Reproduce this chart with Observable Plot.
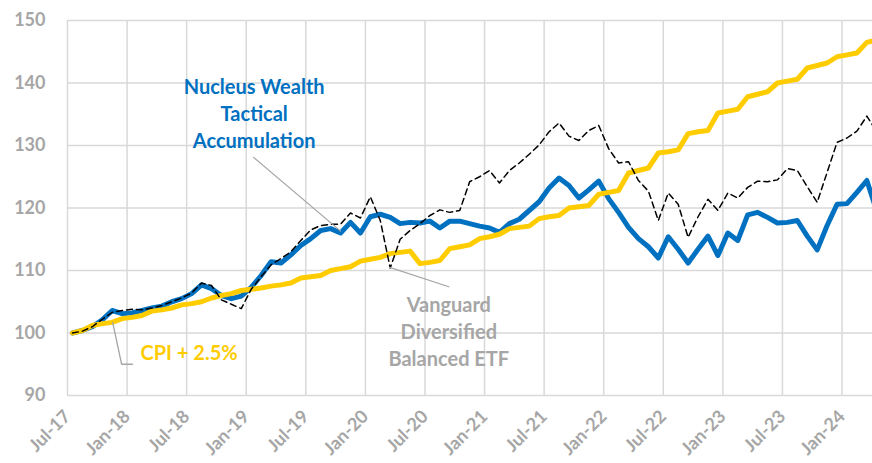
<!DOCTYPE html>
<html>
<head>
<meta charset="utf-8">
<script src="https://cdn.jsdelivr.net/npm/d3@7"></script>
<script src="https://cdn.jsdelivr.net/npm/@observablehq/plot@0.6"></script>
<style>
  html, body { margin: 0; padding: 0; background: #fff; }
  #chart { width: 872px; height: 463px; overflow: hidden; }
</style>
</head>
<body>
<div id="chart"></div>
<script>
// Month index 0 = Jul-17 ... 81 = Apr-24 (monthly observations)
const tickLabels = ["Jul-17","Jan-18","Jul-18","Jan-19","Jul-19","Jan-20","Jul-20","Jan-21","Jul-21","Jan-22","Jul-22","Jan-23","Jul-23","Jan-24"];
const yTicks = [90, 100, 110, 120, 130, 140, 150];

const nucleus = [
  100.0, 100.4, 101.0, 102.1, 103.6, 103.1, 103.2, 103.6, 104.0, 104.3,
  105.0, 105.5, 106.3, 107.7, 107.1, 106.0, 105.5, 105.9, 107.3, 109.2,
  111.4, 111.2, 112.5, 114.0, 115.1, 116.4, 116.7, 116.0, 117.7, 116.0,
  118.6, 119.0, 118.5, 117.5, 117.7, 117.6, 117.9, 116.8, 117.9, 117.9,
  117.5, 117.1, 116.8, 116.1, 117.5, 118.2, 119.6, 121.0, 123.2, 124.8,
  123.6, 121.6, 122.9, 124.3, 121.5, 119.3, 116.9, 115.1, 113.8, 112.0,
  115.4, 113.4, 111.2, 113.4, 115.5, 112.4, 116.0, 114.8, 118.9, 119.3,
  118.5, 117.6, 117.7, 118.0, 115.5, 113.3, 117.2, 120.6, 120.7, 122.5,
  124.4, 119.5
];

const cpi = [
  100.0, 100.4, 101.2, 101.5, 101.7, 102.3, 102.5, 102.8, 103.5, 103.7,
  104.0, 104.5, 104.7, 105.0, 105.6, 106.0, 106.3, 106.8, 107.0, 107.2,
  107.5, 107.7, 108.0, 108.8, 109.0, 109.2, 110.0, 110.3, 110.6, 111.5,
  111.8, 112.1, 112.7, 112.9, 113.1, 111.1, 111.3, 111.6, 113.5, 113.8,
  114.1, 115.1, 115.4, 115.8, 116.7, 116.9, 117.1, 118.3, 118.6, 118.8,
  120.0, 120.2, 120.4, 122.2, 122.5, 122.8, 125.6, 126.0, 126.4, 128.8,
  129.0, 129.3, 131.9, 132.2, 132.4, 135.2, 135.5, 135.8, 137.8, 138.2,
  138.6, 140.0, 140.3, 140.6, 142.4, 142.8, 143.2, 144.2, 144.5, 144.8,
  146.5, 146.9
];

const vanguard = [
  100.0, 100.3, 101.0, 102.2, 103.3, 103.6, 103.8, 103.7, 104.0, 104.4,
  105.0, 105.6, 106.4, 108.0, 107.6, 105.3, 104.6, 103.9, 107.0, 109.0,
  110.9, 111.9, 113.0, 114.8, 116.5, 117.2, 117.4, 117.4, 119.2, 118.4,
  121.8, 118.0, 110.4, 115.0, 116.4, 117.5, 118.8, 119.7, 119.3, 119.6,
  124.2, 125.0, 126.0, 124.0, 126.0, 127.2, 128.6, 130.1, 132.2, 133.6,
  131.5, 130.8, 132.4, 133.2, 129.5, 127.2, 127.4, 124.4, 122.7, 118.0,
  122.4, 120.6, 115.3, 118.6, 121.4, 119.6, 122.4, 121.6, 123.3, 124.3,
  124.2, 124.5, 126.3, 126.0, 123.4, 120.9, 125.7, 130.5, 131.2, 132.3,
  134.7, 132.2
];

// Annotation labels and leader lines (in data units: month index, index value)
const centeredLabels = [
  {m: 18.8, v: 135.3, text: "Nucleus Wealth\nTactical\nAccumulation", color: "#0070C0"},
  {m: 38.4, v: 100.4, text: "Vanguard\nDiversified\nBalanced ETF", color: "#A6A6A6"}
];
const cpiLabel = [{m: 7.35, v: 96.7, text: "CPI + 2.5%", color: "#FFCC00"}];
const leaderNucleus = [{m: 18.75, v: 128.1}, {m: 27.5, v: 116.3}];
const leaderVanguard = [{m: 32.45, v: 110.5}, {m: 38.4, v: 107.4}];
const leaderCpi = [{m: 4.55, v: 101.7}, {m: 5.45, v: 95.0}, {m: 6.55, v: 95.0}];

const toRows = (arr) => arr.map((v, i) => ({m: i + 0.5, v}));
const gridXTicks = tickLabels.map((_, i) => i * 6);
const gray = "#A6A6A6";

const chart = Plot.plot({
  width: 872,
  height: 463,
  marginLeft: 67,
  marginRight: 0,
  marginTop: 20,
  marginBottom: 68,
  style: {fontFamily: "Lato, 'Open Sans', sans-serif", background: "#fff", overflow: "visible"},
  x: {domain: [0, 81.07], axis: null, label: null},
  y: {domain: [90, 150], axis: null, label: null},
  marks: [
    Plot.gridY(yTicks, {stroke: "#D9D9D9", strokeOpacity: 1, strokeWidth: 1.5}),
    Plot.gridX(gridXTicks, {stroke: "#D9D9D9", strokeOpacity: 1, strokeWidth: 1.5}),
    Plot.axisY(yTicks, {tickSize: 0, tickPadding: 22, fontSize: 18, fontWeight: "bold", fill: gray, label: null}),
    Plot.axisX(gridXTicks, {
      tickSize: 0, tickPadding: 18, tickRotate: -45,
      tickFormat: (d) => tickLabels[d / 6],
      fontSize: 18, fontWeight: "bold", fill: gray, label: null
    }),
    Plot.line(toRows(nucleus), {x: "m", y: "v", stroke: "#0070C0", strokeWidth: 5, strokeLinejoin: "round", clip: true}),
    Plot.line(toRows(cpi), {x: "m", y: "v", stroke: "#FFCC00", strokeWidth: 5, strokeLinejoin: "round", clip: true}),
    Plot.line(toRows(vanguard), {x: "m", y: "v", stroke: "#000", strokeWidth: 1.5, strokeDasharray: "6,4", clip: true}),
    Plot.line(leaderNucleus, {x: "m", y: "v", stroke: gray, strokeWidth: 1.3}),
    Plot.line(leaderVanguard, {x: "m", y: "v", stroke: gray, strokeWidth: 1.3}),
    Plot.line(leaderCpi, {x: "m", y: "v", stroke: gray, strokeWidth: 1.3}),
    Plot.text(centeredLabels, {
      x: "m", y: "v", text: "text", fill: "color", textAnchor: "middle",
      fontSize: 20, fontWeight: "bold", lineHeight: 1.36
    }),
    Plot.text(cpiLabel, {
      x: "m", y: "v", text: "text", fill: "color", textAnchor: "start",
      fontSize: 20, fontWeight: "bold"
    })
  ]
});

document.getElementById("chart").appendChild(chart);
</script>
</body>
</html>
